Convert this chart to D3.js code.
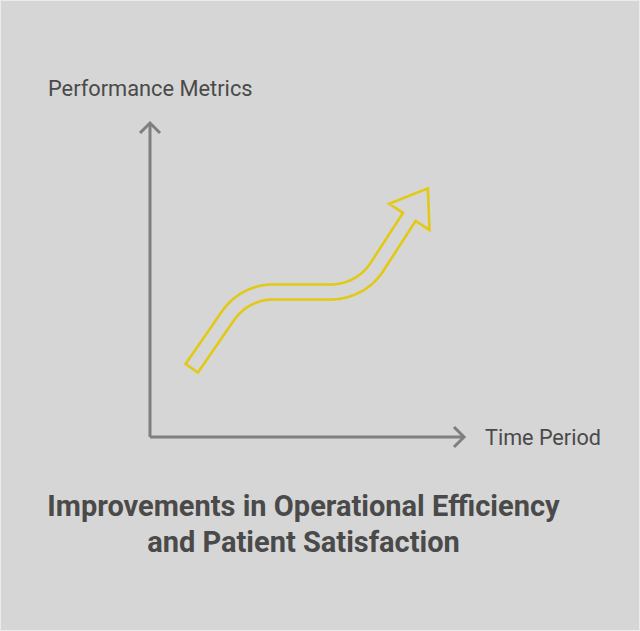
<!DOCTYPE html>
<html>
<head>
<meta charset="utf-8">
<script src="https://cdn.jsdelivr.net/npm/d3@7"></script>
<style>
  html, body { margin: 0; padding: 0; background: #ebebeb; }
  svg { display: block; }
</style>
</head>
<body>
<svg id="chart" width="640" height="631"></svg>
<script>
// ---- data ----
const axisLabels = ["Time Period", "Performance Metrics"];
const titleLines = ["Improvements in Operational Efficiency", "and Patient Satisfaction"];
// trend centerline corner knots (time, metric) on a 0..100 conceptual scale
const trendTime   = [13.3, 30.1, 67.1, 82.6];
const trendMetric = [21.9, 46.2, 46.2, 70.1];

// ---- layout ----
const W = 640, H = 631;
const svg = d3.select("#chart");
svg.append("rect").attr("x", 1).attr("y", 1).attr("width", W - 2).attr("height", H - 2)
  .attr("fill", "#d6d6d6");

const x = d3.scaleLinear().domain([0, 100]).range([150, 464]);
const y = d3.scaleLinear().domain([0, 100]).range([437, 123]);

const axisColor = "#7f7f7f";
const textColor = "#4a4a4a";

// axes
const g = svg.append("g");
g.append("line").attr("x1", x(0)).attr("y1", y(0)).attr("x2", x(0)).attr("y2", y(100))
  .attr("stroke", axisColor).attr("stroke-width", 3);
g.append("line").attr("x1", x(0)).attr("y1", y(0)).attr("x2", x(100)).attr("y2", y(0))
  .attr("stroke", axisColor).attr("stroke-width", 3);
g.append("path")
  .attr("d", d3.line()([[x(0) - 10, y(100) + 10], [x(0), y(100)], [x(0) + 10, y(100) + 10]]))
  .attr("fill", "none").attr("stroke", axisColor).attr("stroke-width", 3);
g.append("path")
  .attr("d", d3.line()([[x(100) - 10, y(0) - 10], [x(100), y(0)], [x(100) - 10, y(0) + 10]]))
  .attr("fill", "none").attr("stroke", axisColor).attr("stroke-width", 3);

// axis labels
svg.append("text").attr("x", 48).attr("y", 96)
  .attr("font-family", "Roboto").attr("font-size", 21.8).attr("fill", textColor)
  .text(axisLabels[1]);
svg.append("text").attr("x", 485).attr("y", 445)
  .attr("font-family", "Roboto").attr("font-size", 21.6).attr("fill", textColor)
  .text(axisLabels[0]);

// title
svg.append("g").selectAll("text").data(titleLines).join("text")
  .attr("x", 303.5).attr("y", (d, i) => 516 + i * 36)
  .attr("text-anchor", "middle")
  .attr("font-family", "Roboto").attr("font-weight", 700).attr("font-size", 29)
  .attr("fill", textColor)
  .text(d => d);

// ---- trend arrow (hollow) ----
const pts = trendTime.map((t, i) => [x(t), y(trendMetric[i])]);
function unit(a, b) { const dx = b[0] - a[0], dy = b[1] - a[1]; const l = Math.hypot(dx, dy); return [dx / l, dy / l]; }
const bendR = 55;
const p = d3.path();
p.moveTo(pts[0][0], pts[0][1]);
for (let i = 1; i < pts.length - 1; i++) {
  p.arcTo(pts[i][0], pts[i][1], pts[i + 1][0], pts[i + 1][1], bendR);
}
p.lineTo(pts[pts.length - 1][0], pts[pts.length - 1][1]);

const hidden = svg.append("path").attr("d", p.toString()).attr("fill", "none").attr("stroke", "none");
const node = hidden.node();
const L = node.getTotalLength();
const N = 200;
const samples = d3.range(N + 1).map(k => node.getPointAtLength(L * k / N));
const hw = 7.5;
const left = [], right = [];
samples.forEach((s, k) => {
  const a = samples[Math.max(0, k - 1)], b = samples[Math.min(N, k + 1)];
  const [ux, uy] = unit([a.x, a.y], [b.x, b.y]);
  const nx = -uy, ny = ux;
  left.push([s.x + nx * hw, s.y + ny * hw]);
  right.push([s.x - nx * hw, s.y - ny * hw]);
});
const base = [samples[N].x, samples[N].y];
const dir = unit(pts[pts.length - 2], pts[pts.length - 1]);
const nrm = [-dir[1], dir[0]];
const headLen = 34, headHalf = 24;
const tip = [base[0] + dir[0] * headLen, base[1] + dir[1] * headLen];
const wingL = [base[0] + nrm[0] * headHalf, base[1] + nrm[1] * headHalf];
const wingR = [base[0] - nrm[0] * headHalf, base[1] - nrm[1] * headHalf];
const outline = left.concat([wingL, tip, wingR]).concat(right.slice().reverse());
svg.append("path")
  .attr("d", d3.line()(outline) + "Z")
  .attr("fill", "none").attr("stroke", "#e1c914").attr("stroke-width", 2.6)
  .attr("stroke-linejoin", "miter");
</script>
</body>
</html>
